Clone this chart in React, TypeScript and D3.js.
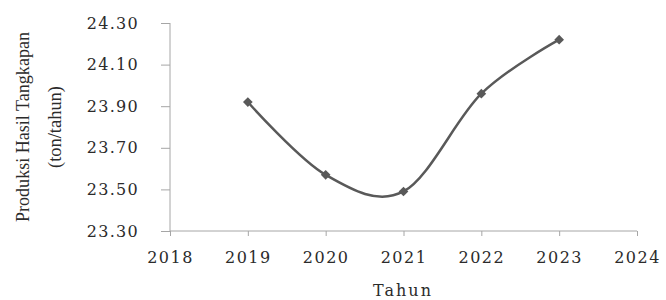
import React, { useRef, useEffect } from "react";
import * as d3 from "d3";

const years = [2019, 2020, 2021, 2022, 2023];
const production = [23.92, 23.57, 23.49, 23.96, 24.22];
const yTicks = [23.3, 23.5, 23.7, 23.9, 24.1, 24.3];
const xTicks = [2018, 2019, 2020, 2021, 2022, 2023, 2024];

const App: React.FC = () => {
    const svgRef = useRef<SVGSVGElement | null>(null);

    useEffect(() => {
        const width = 666;
        const height = 300;
        const svg = d3.select(svgRef.current!);
        svg.selectAll("*").remove();

        const x = d3.scaleLinear().domain([2018, 2024]).range([170, 637]);
        const y = d3.scaleLinear().domain([23.3, 24.3]).range([231, 23]);
        const axisColor = "#a6a6a6";
        const font = "'DejaVu Serif', serif";

        // y axis
        const yAxis = svg
            .append("g")
            .attr("transform", "translate(170,0)")
            .call(
                d3
                    .axisLeft(y)
                    .tickValues(yTicks)
                    .tickSize(9)
                    .tickPadding(22)
                    .tickFormat((d) => d3.format(".2f")(d as number))
            );
        yAxis.select(".domain").attr("stroke", axisColor).attr("d", "M0,23V231");
        yAxis.selectAll(".tick line").attr("stroke", axisColor);
        yAxis
            .selectAll(".tick text")
            .attr("fill", "#2b2b2b")
            .style("font-family", font)
            .style("font-size", "16px")
            .style("letter-spacing", "1.3px");

        // x axis
        const xAxis = svg
            .append("g")
            .attr("transform", "translate(0,231)")
            .call(
                d3
                    .axisBottom(x)
                    .tickValues(xTicks)
                    .tickSize(5)
                    .tickPadding(16)
                    .tickFormat((d) => String(d))
            );
        xAxis.select(".domain").attr("stroke", axisColor).attr("d", "M170,0H637");
        xAxis.selectAll(".tick line").attr("stroke", axisColor);
        xAxis
            .selectAll(".tick text")
            .attr("fill", "#2b2b2b")
            .style("font-family", font)
            .style("font-size", "16px")
            .style("letter-spacing", "1.5px");

        // smooth line (Excel style)
        const pts: [number, number][] = years.map((yr, i) => [x(yr), y(production[i])]);
        const line = d3.line().curve(d3.curveCardinal.tension(0));
        svg
            .append("path")
            .attr("d", line(pts)!)
            .attr("fill", "none")
            .attr("stroke", "#595959")
            .attr("stroke-width", 2.5);

        svg
            .append("g")
            .selectAll("path")
            .data(pts)
            .join("path")
            .attr("d", d3.symbol(d3.symbolDiamond2, 60)()!)
            .attr("transform", (d) => `translate(${d[0]},${d[1]})`)
            .attr("fill", "#595959");

        // axis titles
        svg
            .append("text")
            .attr("x", 403)
            .attr("y", 296)
            .attr("text-anchor", "middle")
            .attr("fill", "#2b2b2b")
            .style("font-family", font)
            .style("font-size", "16px")
            .style("letter-spacing", "2px")
            .text("Tahun");

        const ylab = svg
            .append("text")
            .attr("transform", "translate(0,127) rotate(-90)")
            .attr("text-anchor", "middle")
            .attr("fill", "#2b2b2b")
            .style("font-family", "'Liberation Serif', serif")
            .style("font-size", "19px");
        ylab
            .append("tspan")
            .attr("x", 0)
            .attr("y", 29)
            .attr("textLength", 190)
            .attr("lengthAdjust", "spacingAndGlyphs")
            .text("Produksi Hasil Tangkapan");
        ylab
            .append("tspan")
            .attr("x", 0)
            .attr("y", 61)
            .attr("textLength", 82)
            .attr("lengthAdjust", "spacingAndGlyphs")
            .text("(ton/tahun)");

        svg.attr("width", width).attr("height", height);
    }, []);

    return (
        <svg
            ref={svgRef}
            width={666}
            height={300}
            style={{ position: "absolute", left: 0, top: 0, background: "#fff" }}
        />
    );
};

export default App;
